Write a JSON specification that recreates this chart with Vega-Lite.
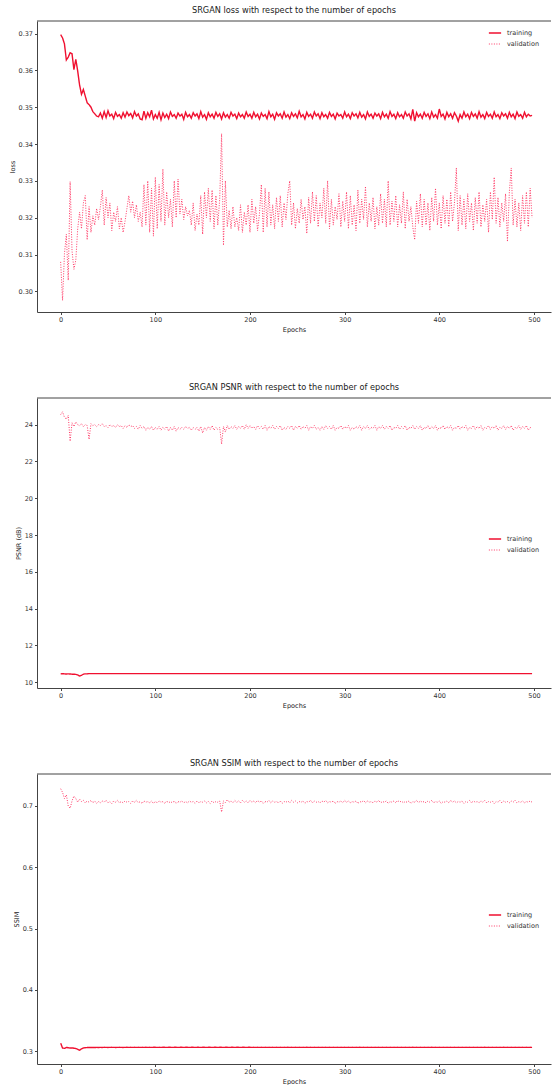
{
"$schema": "https://vega.github.io/schema/vega-lite/v6.json",
"padding": {"left": 9, "top": 6, "right": 0, "bottom": 0},
"background": "white",
"spacing": 50,
"config": {
  "font": "DejaVu Sans",
  "view": {"stroke": null},
  "axis": {"labelFontSize": 6.5, "labelColor": "#333", "titleFontSize": 6.5, "titleFontWeight": "normal", "titleColor": "#222", "domainColor": "#444", "tickColor": "#444", "tickSize": 2.5, "grid": false, "labelPadding": 2, "titlePadding": 3},
  "title": {"fontSize": 8.2, "fontWeight": "normal", "color": "#222", "offset": 5},
  "legend": {"symbolType": "stroke", "symbolSize": 150, "symbolStrokeWidth": 1.5, "labelFontSize": 6.5, "labelColor": "#333", "rowPadding": 0, "labelOffset": 5, "padding": 0}
},
"resolve": {"scale": {"color": "independent", "strokeDash": "independent", "strokeWidth": "independent"}},
"datasets": {"d": [
{"e":0,"lt":0.3697,"lv":0.3080,"pt":10.46,"pv":24.55,"st":0.3130,"sv":0.7280},
{"e":2,"lt":0.3688,"lv":0.2975,"pt":10.47,"pv":24.70,"st":0.3050,"sv":0.7220},
{"e":4,"lt":0.3672,"lv":0.3102,"pt":10.46,"pv":24.40,"st":0.3045,"sv":0.7120},
{"e":6,"lt":0.3628,"lv":0.3155,"pt":10.45,"pv":24.30,"st":0.3060,"sv":0.7180},
{"e":8,"lt":0.3636,"lv":0.3030,"pt":10.46,"pv":24.50,"st":0.3055,"sv":0.7000},
{"e":10,"lt":0.3648,"lv":0.3298,"pt":10.45,"pv":23.10,"st":0.3050,"sv":0.6960},
{"e":12,"lt":0.3645,"lv":0.3110,"pt":10.44,"pv":24.10,"st":0.3052,"sv":0.7080},
{"e":14,"lt":0.3602,"lv":0.3060,"pt":10.44,"pv":23.90,"st":0.3048,"sv":0.7160},
{"e":16,"lt":0.3630,"lv":0.3085,"pt":10.43,"pv":24.15,"st":0.3042,"sv":0.7120},
{"e":18,"lt":0.3598,"lv":0.3170,"pt":10.40,"pv":24.00,"st":0.3030,"sv":0.7060},
{"e":20,"lt":0.3560,"lv":0.3215,"pt":10.34,"pv":23.95,"st":0.3015,"sv":0.7110},
{"e":22,"lt":0.3535,"lv":0.3170,"pt":10.38,"pv":24.05,"st":0.3038,"sv":0.7070},
{"e":24,"lt":0.3548,"lv":0.3240,"pt":10.44,"pv":23.90,"st":0.3052,"sv":0.7090},
{"e":26,"lt":0.3530,"lv":0.3260,"pt":10.46,"pv":24.00,"st":0.3056,"sv":0.7050},
{"e":28,"lt":0.3512,"lv":0.3140,"pt":10.46,"pv":23.95,"st":0.3058,"sv":0.7080},
{"e":30,"lt":0.3507,"lv":0.3230,"pt":10.47,"pv":23.20,"st":0.3060,"sv":0.7060},
{"e":32,"lt":0.3500,"lv":0.3160,"pt":10.47,"pv":24.05,"st":0.3058,"sv":0.7090},
{"e":34,"lt":0.3488,"lv":0.3205,"pt":10.47,"pv":23.95,"st":0.3060,"sv":0.7050},
{"e":36,"lt":0.3482,"lv":0.3180,"pt":10.47,"pv":24.00,"st":0.3059,"sv":0.7080},
{"e":38,"lt":0.3476,"lv":0.3225,"pt":10.47,"pv":23.90,"st":0.3061,"sv":0.7040},
{"e":40,"lt":0.3474,"lv":0.3195,"pt":10.47,"pv":24.00,"st":0.3060,"sv":0.7070},
{"e":42,"lt":0.3484,"lv":0.3230,"pt":10.47,"pv":23.95,"st":0.3061,"sv":0.7050},
{"e":44,"lt":0.3470,"lv":0.3275,"pt":10.47,"pv":24.05,"st":0.3060,"sv":0.7080},
{"e":46,"lt":0.3488,"lv":0.3180,"pt":10.47,"pv":23.90,"st":0.3062,"sv":0.7060},
{"e":48,"lt":0.3472,"lv":0.3255,"pt":10.47,"pv":23.95,"st":0.3061,"sv":0.7090},
{"e":50,"lt":0.3490,"lv":0.3200,"pt":10.47,"pv":23.85,"st":0.3060,"sv":0.7050},
{"e":52,"lt":0.3476,"lv":0.3240,"pt":10.47,"pv":24.00,"st":0.3061,"sv":0.7070},
{"e":54,"lt":0.3481,"lv":0.3165,"pt":10.47,"pv":23.90,"st":0.3062,"sv":0.7040},
{"e":56,"lt":0.3469,"lv":0.3215,"pt":10.47,"pv":23.95,"st":0.3061,"sv":0.7080},
{"e":58,"lt":0.3486,"lv":0.3190,"pt":10.47,"pv":23.85,"st":0.3060,"sv":0.7060},
{"e":60,"lt":0.3475,"lv":0.3230,"pt":10.47,"pv":24.00,"st":0.3061,"sv":0.7090},
{"e":62,"lt":0.3480,"lv":0.3170,"pt":10.47,"pv":23.90,"st":0.3062,"sv":0.7050},
{"e":64,"lt":0.3470,"lv":0.3200,"pt":10.47,"pv":23.95,"st":0.3061,"sv":0.7070},
{"e":66,"lt":0.3485,"lv":0.3160,"pt":10.47,"pv":23.80,"st":0.3060,"sv":0.7050},
{"e":68,"lt":0.3473,"lv":0.3190,"pt":10.47,"pv":23.95,"st":0.3061,"sv":0.7080},
{"e":70,"lt":0.3487,"lv":0.3225,"pt":10.47,"pv":23.85,"st":0.3062,"sv":0.7060},
{"e":72,"lt":0.3477,"lv":0.3260,"pt":10.47,"pv":24.00,"st":0.3061,"sv":0.7070},
{"e":74,"lt":0.3483,"lv":0.3215,"pt":10.47,"pv":23.90,"st":0.3062,"sv":0.7040},
{"e":76,"lt":0.3471,"lv":0.3245,"pt":10.47,"pv":23.95,"st":0.3061,"sv":0.7080},
{"e":78,"lt":0.3488,"lv":0.3200,"pt":10.47,"pv":23.80,"st":0.3062,"sv":0.7060},
{"e":80,"lt":0.3476,"lv":0.3235,"pt":10.47,"pv":23.90,"st":0.3061,"sv":0.7090},
{"e":82,"lt":0.3482,"lv":0.3190,"pt":10.47,"pv":23.75,"st":0.3062,"sv":0.7050},
{"e":84,"lt":0.3468,"lv":0.3215,"pt":10.47,"pv":23.95,"st":0.3061,"sv":0.7070},
{"e":86,"lt":0.3466,"lv":0.3175,"pt":10.47,"pv":23.80,"st":0.3062,"sv":0.7040},
{"e":88,"lt":0.3489,"lv":0.3290,"pt":10.47,"pv":23.90,"st":0.3061,"sv":0.7080},
{"e":90,"lt":0.3470,"lv":0.3180,"pt":10.47,"pv":23.70,"st":0.3062,"sv":0.7060},
{"e":92,"lt":0.3485,"lv":0.3300,"pt":10.47,"pv":23.85,"st":0.3061,"sv":0.7070},
{"e":94,"lt":0.3474,"lv":0.3160,"pt":10.47,"pv":23.75,"st":0.3062,"sv":0.7050},
{"e":96,"lt":0.3492,"lv":0.3280,"pt":10.47,"pv":23.90,"st":0.3061,"sv":0.7080},
{"e":98,"lt":0.3468,"lv":0.3150,"pt":10.47,"pv":23.70,"st":0.3062,"sv":0.7040},
{"e":100,"lt":0.3480,"lv":0.3310,"pt":10.47,"pv":23.85,"st":0.3062,"sv":0.7070},
{"e":102,"lt":0.3470,"lv":0.3170,"pt":10.47,"pv":23.75,"st":0.3061,"sv":0.7050},
{"e":104,"lt":0.3486,"lv":0.3290,"pt":10.47,"pv":23.90,"st":0.3062,"sv":0.7080},
{"e":106,"lt":0.3466,"lv":0.3190,"pt":10.47,"pv":23.70,"st":0.3061,"sv":0.7060},
{"e":108,"lt":0.3484,"lv":0.3332,"pt":10.47,"pv":23.85,"st":0.3062,"sv":0.7070},
{"e":110,"lt":0.3472,"lv":0.3180,"pt":10.47,"pv":23.75,"st":0.3062,"sv":0.7040},
{"e":112,"lt":0.3481,"lv":0.3270,"pt":10.47,"pv":23.90,"st":0.3061,"sv":0.7080},
{"e":114,"lt":0.3469,"lv":0.3200,"pt":10.47,"pv":23.65,"st":0.3062,"sv":0.7050},
{"e":116,"lt":0.3487,"lv":0.3250,"pt":10.47,"pv":23.85,"st":0.3062,"sv":0.7070},
{"e":118,"lt":0.3475,"lv":0.3175,"pt":10.47,"pv":23.70,"st":0.3061,"sv":0.7050},
{"e":120,"lt":0.3480,"lv":0.3300,"pt":10.47,"pv":23.90,"st":0.3062,"sv":0.7080},
{"e":122,"lt":0.3470,"lv":0.3200,"pt":10.47,"pv":23.65,"st":0.3062,"sv":0.7040},
{"e":124,"lt":0.3484,"lv":0.3305,"pt":10.47,"pv":23.85,"st":0.3061,"sv":0.7070},
{"e":126,"lt":0.3476,"lv":0.3210,"pt":10.47,"pv":23.75,"st":0.3062,"sv":0.7060},
{"e":128,"lt":0.3481,"lv":0.3250,"pt":10.47,"pv":23.85,"st":0.3062,"sv":0.7080},
{"e":130,"lt":0.3467,"lv":0.3195,"pt":10.47,"pv":23.75,"st":0.3061,"sv":0.7050},
{"e":132,"lt":0.3486,"lv":0.3230,"pt":10.47,"pv":23.90,"st":0.3062,"sv":0.7070},
{"e":134,"lt":0.3474,"lv":0.3205,"pt":10.47,"pv":23.80,"st":0.3062,"sv":0.7050},
{"e":136,"lt":0.3480,"lv":0.3220,"pt":10.47,"pv":23.85,"st":0.3061,"sv":0.7080},
{"e":138,"lt":0.3470,"lv":0.3180,"pt":10.47,"pv":23.70,"st":0.3062,"sv":0.7060},
{"e":140,"lt":0.3485,"lv":0.3240,"pt":10.47,"pv":23.85,"st":0.3062,"sv":0.7070},
{"e":142,"lt":0.3476,"lv":0.3165,"pt":10.47,"pv":23.75,"st":0.3061,"sv":0.7040},
{"e":144,"lt":0.3482,"lv":0.3210,"pt":10.47,"pv":23.85,"st":0.3062,"sv":0.7080},
{"e":146,"lt":0.3469,"lv":0.3180,"pt":10.47,"pv":23.65,"st":0.3062,"sv":0.7050},
{"e":148,"lt":0.3488,"lv":0.3260,"pt":10.47,"pv":23.90,"st":0.3061,"sv":0.7070},
{"e":150,"lt":0.3473,"lv":0.3155,"pt":10.47,"pv":23.55,"st":0.3062,"sv":0.7060},
{"e":152,"lt":0.3480,"lv":0.3270,"pt":10.47,"pv":23.85,"st":0.3062,"sv":0.7080},
{"e":154,"lt":0.3467,"lv":0.3200,"pt":10.47,"pv":23.70,"st":0.3061,"sv":0.7050},
{"e":156,"lt":0.3485,"lv":0.3280,"pt":10.47,"pv":23.90,"st":0.3062,"sv":0.7070},
{"e":158,"lt":0.3474,"lv":0.3190,"pt":10.47,"pv":23.75,"st":0.3062,"sv":0.7040},
{"e":160,"lt":0.3481,"lv":0.3275,"pt":10.47,"pv":23.95,"st":0.3061,"sv":0.7080},
{"e":162,"lt":0.3470,"lv":0.3170,"pt":10.47,"pv":23.70,"st":0.3062,"sv":0.7050},
{"e":164,"lt":0.3486,"lv":0.3260,"pt":10.47,"pv":23.85,"st":0.3062,"sv":0.7070},
{"e":166,"lt":0.3475,"lv":0.3180,"pt":10.47,"pv":23.75,"st":0.3061,"sv":0.7060},
{"e":168,"lt":0.3482,"lv":0.3250,"pt":10.47,"pv":23.85,"st":0.3062,"sv":0.7080},
{"e":170,"lt":0.3468,"lv":0.3428,"pt":10.47,"pv":22.95,"st":0.3062,"sv":0.6900},
{"e":172,"lt":0.3485,"lv":0.3125,"pt":10.47,"pv":23.90,"st":0.3061,"sv":0.7080},
{"e":174,"lt":0.3473,"lv":0.3300,"pt":10.47,"pv":23.60,"st":0.3062,"sv":0.7050},
{"e":176,"lt":0.3480,"lv":0.3175,"pt":10.47,"pv":23.95,"st":0.3062,"sv":0.7100},
{"e":178,"lt":0.3470,"lv":0.3220,"pt":10.47,"pv":23.75,"st":0.3061,"sv":0.7060},
{"e":180,"lt":0.3486,"lv":0.3170,"pt":10.47,"pv":23.90,"st":0.3062,"sv":0.7080},
{"e":182,"lt":0.3476,"lv":0.3230,"pt":10.47,"pv":23.80,"st":0.3062,"sv":0.7050},
{"e":184,"lt":0.3481,"lv":0.3175,"pt":10.47,"pv":23.95,"st":0.3061,"sv":0.7090},
{"e":186,"lt":0.3469,"lv":0.3200,"pt":10.47,"pv":23.75,"st":0.3062,"sv":0.7060},
{"e":188,"lt":0.3484,"lv":0.3165,"pt":10.47,"pv":23.90,"st":0.3062,"sv":0.7080},
{"e":190,"lt":0.3474,"lv":0.3235,"pt":10.47,"pv":23.80,"st":0.3061,"sv":0.7050},
{"e":192,"lt":0.3480,"lv":0.3160,"pt":10.47,"pv":23.95,"st":0.3062,"sv":0.7090},
{"e":194,"lt":0.3470,"lv":0.3215,"pt":10.47,"pv":23.75,"st":0.3062,"sv":0.7060},
{"e":196,"lt":0.3487,"lv":0.3180,"pt":10.47,"pv":24.00,"st":0.3061,"sv":0.7080},
{"e":198,"lt":0.3475,"lv":0.3235,"pt":10.47,"pv":23.80,"st":0.3062,"sv":0.7050},
{"e":200,"lt":0.3481,"lv":0.3160,"pt":10.47,"pv":23.95,"st":0.3062,"sv":0.7090},
{"e":202,"lt":0.3470,"lv":0.3250,"pt":10.47,"pv":23.80,"st":0.3061,"sv":0.7060},
{"e":204,"lt":0.3486,"lv":0.3185,"pt":10.47,"pv":23.90,"st":0.3062,"sv":0.7080},
{"e":206,"lt":0.3474,"lv":0.3230,"pt":10.47,"pv":23.75,"st":0.3061,"sv":0.7050},
{"e":208,"lt":0.3481,"lv":0.3165,"pt":10.47,"pv":23.95,"st":0.3062,"sv":0.7090},
{"e":210,"lt":0.3468,"lv":0.3210,"pt":10.47,"pv":23.80,"st":0.3061,"sv":0.7060},
{"e":212,"lt":0.3484,"lv":0.3290,"pt":10.47,"pv":23.90,"st":0.3062,"sv":0.7080},
{"e":214,"lt":0.3475,"lv":0.3160,"pt":10.47,"pv":23.75,"st":0.3061,"sv":0.7040},
{"e":216,"lt":0.3480,"lv":0.3280,"pt":10.47,"pv":23.95,"st":0.3062,"sv":0.7070},
{"e":218,"lt":0.3469,"lv":0.3175,"pt":10.47,"pv":23.70,"st":0.3061,"sv":0.7060},
{"e":220,"lt":0.3488,"lv":0.3270,"pt":10.47,"pv":23.90,"st":0.3062,"sv":0.7090},
{"e":222,"lt":0.3474,"lv":0.3180,"pt":10.47,"pv":23.80,"st":0.3061,"sv":0.7050},
{"e":224,"lt":0.3481,"lv":0.3235,"pt":10.47,"pv":23.95,"st":0.3062,"sv":0.7080},
{"e":226,"lt":0.3467,"lv":0.3170,"pt":10.47,"pv":23.75,"st":0.3061,"sv":0.7060},
{"e":228,"lt":0.3485,"lv":0.3255,"pt":10.47,"pv":23.90,"st":0.3062,"sv":0.7070},
{"e":230,"lt":0.3476,"lv":0.3190,"pt":10.47,"pv":23.80,"st":0.3061,"sv":0.7050},
{"e":232,"lt":0.3482,"lv":0.3260,"pt":10.47,"pv":23.95,"st":0.3062,"sv":0.7080},
{"e":234,"lt":0.3470,"lv":0.3175,"pt":10.47,"pv":23.70,"st":0.3061,"sv":0.7040},
{"e":236,"lt":0.3487,"lv":0.3240,"pt":10.47,"pv":23.85,"st":0.3062,"sv":0.7070},
{"e":238,"lt":0.3473,"lv":0.3195,"pt":10.47,"pv":23.75,"st":0.3061,"sv":0.7060},
{"e":240,"lt":0.3480,"lv":0.3265,"pt":10.47,"pv":23.90,"st":0.3062,"sv":0.7080},
{"e":242,"lt":0.3469,"lv":0.3300,"pt":10.47,"pv":23.80,"st":0.3061,"sv":0.7050},
{"e":244,"lt":0.3485,"lv":0.3180,"pt":10.47,"pv":23.95,"st":0.3062,"sv":0.7090},
{"e":246,"lt":0.3475,"lv":0.3240,"pt":10.47,"pv":23.70,"st":0.3061,"sv":0.7060},
{"e":248,"lt":0.3482,"lv":0.3170,"pt":10.47,"pv":23.90,"st":0.3062,"sv":0.7080},
{"e":250,"lt":0.3471,"lv":0.3225,"pt":10.47,"pv":23.80,"st":0.3061,"sv":0.7050},
{"e":252,"lt":0.3489,"lv":0.3185,"pt":10.47,"pv":23.95,"st":0.3062,"sv":0.7070},
{"e":254,"lt":0.3474,"lv":0.3250,"pt":10.47,"pv":23.75,"st":0.3061,"sv":0.7060},
{"e":256,"lt":0.3480,"lv":0.3195,"pt":10.47,"pv":23.90,"st":0.3062,"sv":0.7080},
{"e":258,"lt":0.3468,"lv":0.3230,"pt":10.47,"pv":23.80,"st":0.3061,"sv":0.7040},
{"e":260,"lt":0.3486,"lv":0.3157,"pt":10.47,"pv":23.95,"st":0.3062,"sv":0.7070},
{"e":262,"lt":0.3475,"lv":0.3255,"pt":10.47,"pv":23.70,"st":0.3061,"sv":0.7060},
{"e":264,"lt":0.3481,"lv":0.3185,"pt":10.47,"pv":23.90,"st":0.3062,"sv":0.7090},
{"e":266,"lt":0.3470,"lv":0.3270,"pt":10.47,"pv":23.80,"st":0.3061,"sv":0.7050},
{"e":268,"lt":0.3487,"lv":0.3190,"pt":10.47,"pv":23.95,"st":0.3062,"sv":0.7080},
{"e":270,"lt":0.3476,"lv":0.3260,"pt":10.47,"pv":23.75,"st":0.3061,"sv":0.7060},
{"e":272,"lt":0.3482,"lv":0.3175,"pt":10.47,"pv":23.85,"st":0.3062,"sv":0.7070},
{"e":274,"lt":0.3469,"lv":0.3240,"pt":10.47,"pv":23.70,"st":0.3061,"sv":0.7050},
{"e":276,"lt":0.3485,"lv":0.3200,"pt":10.47,"pv":23.90,"st":0.3062,"sv":0.7080},
{"e":278,"lt":0.3474,"lv":0.3280,"pt":10.47,"pv":23.75,"st":0.3061,"sv":0.7060},
{"e":280,"lt":0.3480,"lv":0.3185,"pt":10.47,"pv":23.95,"st":0.3062,"sv":0.7090},
{"e":282,"lt":0.3470,"lv":0.3300,"pt":10.47,"pv":23.80,"st":0.3061,"sv":0.7050},
{"e":284,"lt":0.3486,"lv":0.3170,"pt":10.47,"pv":23.90,"st":0.3062,"sv":0.7070},
{"e":286,"lt":0.3475,"lv":0.3250,"pt":10.47,"pv":23.75,"st":0.3061,"sv":0.7060},
{"e":288,"lt":0.3481,"lv":0.3180,"pt":10.47,"pv":23.95,"st":0.3062,"sv":0.7080},
{"e":290,"lt":0.3468,"lv":0.3230,"pt":10.47,"pv":23.70,"st":0.3061,"sv":0.7040},
{"e":292,"lt":0.3484,"lv":0.3195,"pt":10.47,"pv":23.85,"st":0.3062,"sv":0.7070},
{"e":294,"lt":0.3476,"lv":0.3265,"pt":10.47,"pv":23.80,"st":0.3061,"sv":0.7060},
{"e":296,"lt":0.3480,"lv":0.3175,"pt":10.47,"pv":23.95,"st":0.3062,"sv":0.7080},
{"e":298,"lt":0.3470,"lv":0.3245,"pt":10.47,"pv":23.75,"st":0.3061,"sv":0.7050},
{"e":300,"lt":0.3487,"lv":0.3190,"pt":10.47,"pv":23.90,"st":0.3062,"sv":0.7090},
{"e":302,"lt":0.3474,"lv":0.3270,"pt":10.47,"pv":23.80,"st":0.3061,"sv":0.7060},
{"e":304,"lt":0.3481,"lv":0.3170,"pt":10.47,"pv":23.95,"st":0.3062,"sv":0.7080},
{"e":306,"lt":0.3469,"lv":0.3260,"pt":10.47,"pv":23.70,"st":0.3061,"sv":0.7050},
{"e":308,"lt":0.3485,"lv":0.3180,"pt":10.47,"pv":23.85,"st":0.3062,"sv":0.7070},
{"e":310,"lt":0.3476,"lv":0.3235,"pt":10.47,"pv":23.75,"st":0.3061,"sv":0.7060},
{"e":312,"lt":0.3482,"lv":0.3165,"pt":10.47,"pv":23.90,"st":0.3062,"sv":0.7080},
{"e":314,"lt":0.3471,"lv":0.3275,"pt":10.47,"pv":23.80,"st":0.3061,"sv":0.7040},
{"e":316,"lt":0.3486,"lv":0.3185,"pt":10.47,"pv":23.95,"st":0.3062,"sv":0.7070},
{"e":318,"lt":0.3473,"lv":0.3250,"pt":10.47,"pv":23.70,"st":0.3061,"sv":0.7060},
{"e":320,"lt":0.3480,"lv":0.3195,"pt":10.47,"pv":23.90,"st":0.3062,"sv":0.7090},
{"e":322,"lt":0.3468,"lv":0.3285,"pt":10.47,"pv":23.80,"st":0.3061,"sv":0.7050},
{"e":324,"lt":0.3487,"lv":0.3175,"pt":10.47,"pv":23.95,"st":0.3062,"sv":0.7080},
{"e":326,"lt":0.3475,"lv":0.3240,"pt":10.47,"pv":23.75,"st":0.3061,"sv":0.7060},
{"e":328,"lt":0.3481,"lv":0.3190,"pt":10.47,"pv":23.85,"st":0.3062,"sv":0.7070},
{"e":330,"lt":0.3470,"lv":0.3255,"pt":10.47,"pv":23.80,"st":0.3061,"sv":0.7050},
{"e":332,"lt":0.3484,"lv":0.3170,"pt":10.47,"pv":23.95,"st":0.3062,"sv":0.7080},
{"e":334,"lt":0.3476,"lv":0.3230,"pt":10.47,"pv":23.70,"st":0.3061,"sv":0.7060},
{"e":336,"lt":0.3482,"lv":0.3180,"pt":10.47,"pv":23.90,"st":0.3062,"sv":0.7090},
{"e":338,"lt":0.3469,"lv":0.3265,"pt":10.47,"pv":23.80,"st":0.3061,"sv":0.7050},
{"e":340,"lt":0.3486,"lv":0.3185,"pt":10.47,"pv":23.95,"st":0.3062,"sv":0.7070},
{"e":342,"lt":0.3474,"lv":0.3250,"pt":10.47,"pv":23.75,"st":0.3061,"sv":0.7060},
{"e":344,"lt":0.3481,"lv":0.3175,"pt":10.47,"pv":23.90,"st":0.3062,"sv":0.7080},
{"e":346,"lt":0.3470,"lv":0.3300,"pt":10.47,"pv":23.80,"st":0.3061,"sv":0.7040},
{"e":348,"lt":0.3488,"lv":0.3180,"pt":10.47,"pv":23.95,"st":0.3062,"sv":0.7070},
{"e":350,"lt":0.3475,"lv":0.3245,"pt":10.47,"pv":23.70,"st":0.3061,"sv":0.7060},
{"e":352,"lt":0.3481,"lv":0.3190,"pt":10.47,"pv":23.85,"st":0.3062,"sv":0.7080},
{"e":354,"lt":0.3469,"lv":0.3260,"pt":10.47,"pv":23.80,"st":0.3061,"sv":0.7050},
{"e":356,"lt":0.3485,"lv":0.3175,"pt":10.47,"pv":23.95,"st":0.3062,"sv":0.7090},
{"e":358,"lt":0.3474,"lv":0.3235,"pt":10.47,"pv":23.75,"st":0.3061,"sv":0.7060},
{"e":360,"lt":0.3480,"lv":0.3185,"pt":10.47,"pv":23.90,"st":0.3062,"sv":0.7080},
{"e":362,"lt":0.3470,"lv":0.3270,"pt":10.47,"pv":23.80,"st":0.3061,"sv":0.7050},
{"e":364,"lt":0.3487,"lv":0.3170,"pt":10.47,"pv":23.95,"st":0.3062,"sv":0.7070},
{"e":366,"lt":0.3476,"lv":0.3250,"pt":10.47,"pv":23.70,"st":0.3061,"sv":0.7060},
{"e":368,"lt":0.3482,"lv":0.3190,"pt":10.47,"pv":23.85,"st":0.3062,"sv":0.7080},
{"e":370,"lt":0.3468,"lv":0.3230,"pt":10.47,"pv":23.80,"st":0.3061,"sv":0.7040},
{"e":372,"lt":0.3494,"lv":0.3175,"pt":10.47,"pv":23.95,"st":0.3062,"sv":0.7070},
{"e":374,"lt":0.3462,"lv":0.3140,"pt":10.47,"pv":23.75,"st":0.3061,"sv":0.7060},
{"e":376,"lt":0.3485,"lv":0.3245,"pt":10.47,"pv":23.90,"st":0.3062,"sv":0.7090},
{"e":378,"lt":0.3474,"lv":0.3185,"pt":10.47,"pv":23.80,"st":0.3061,"sv":0.7050},
{"e":380,"lt":0.3481,"lv":0.3265,"pt":10.47,"pv":23.95,"st":0.3062,"sv":0.7080},
{"e":382,"lt":0.3470,"lv":0.3175,"pt":10.47,"pv":23.70,"st":0.3061,"sv":0.7060},
{"e":384,"lt":0.3486,"lv":0.3250,"pt":10.47,"pv":23.85,"st":0.3062,"sv":0.7070},
{"e":386,"lt":0.3475,"lv":0.3180,"pt":10.47,"pv":23.80,"st":0.3061,"sv":0.7050},
{"e":388,"lt":0.3482,"lv":0.3240,"pt":10.47,"pv":23.95,"st":0.3062,"sv":0.7080},
{"e":390,"lt":0.3469,"lv":0.3165,"pt":10.47,"pv":23.75,"st":0.3061,"sv":0.7060},
{"e":392,"lt":0.3487,"lv":0.3255,"pt":10.47,"pv":23.90,"st":0.3062,"sv":0.7090},
{"e":394,"lt":0.3473,"lv":0.3190,"pt":10.47,"pv":23.80,"st":0.3061,"sv":0.7050},
{"e":396,"lt":0.3480,"lv":0.3280,"pt":10.47,"pv":23.95,"st":0.3062,"sv":0.7070},
{"e":398,"lt":0.3470,"lv":0.3180,"pt":10.47,"pv":23.70,"st":0.3061,"sv":0.7060},
{"e":400,"lt":0.3495,"lv":0.3240,"pt":10.47,"pv":23.85,"st":0.3062,"sv":0.7080},
{"e":402,"lt":0.3475,"lv":0.3170,"pt":10.47,"pv":23.80,"st":0.3061,"sv":0.7040},
{"e":404,"lt":0.3481,"lv":0.3260,"pt":10.47,"pv":23.95,"st":0.3062,"sv":0.7070},
{"e":406,"lt":0.3468,"lv":0.3185,"pt":10.47,"pv":23.75,"st":0.3061,"sv":0.7060},
{"e":408,"lt":0.3486,"lv":0.3250,"pt":10.47,"pv":23.90,"st":0.3062,"sv":0.7080},
{"e":410,"lt":0.3474,"lv":0.3175,"pt":10.47,"pv":23.80,"st":0.3061,"sv":0.7050},
{"e":412,"lt":0.3482,"lv":0.3270,"pt":10.47,"pv":23.95,"st":0.3062,"sv":0.7090},
{"e":414,"lt":0.3470,"lv":0.3190,"pt":10.47,"pv":23.70,"st":0.3061,"sv":0.7060},
{"e":416,"lt":0.3485,"lv":0.3240,"pt":10.47,"pv":23.85,"st":0.3062,"sv":0.7080},
{"e":418,"lt":0.3476,"lv":0.3335,"pt":10.47,"pv":23.80,"st":0.3061,"sv":0.7050},
{"e":420,"lt":0.3462,"lv":0.3165,"pt":10.47,"pv":23.95,"st":0.3062,"sv":0.7070},
{"e":422,"lt":0.3480,"lv":0.3260,"pt":10.47,"pv":23.75,"st":0.3061,"sv":0.7060},
{"e":424,"lt":0.3470,"lv":0.3180,"pt":10.47,"pv":23.90,"st":0.3062,"sv":0.7080},
{"e":426,"lt":0.3487,"lv":0.3250,"pt":10.47,"pv":23.80,"st":0.3061,"sv":0.7040},
{"e":428,"lt":0.3474,"lv":0.3170,"pt":10.47,"pv":23.95,"st":0.3062,"sv":0.7070},
{"e":430,"lt":0.3481,"lv":0.3265,"pt":10.47,"pv":23.70,"st":0.3061,"sv":0.7060},
{"e":432,"lt":0.3469,"lv":0.3190,"pt":10.47,"pv":23.85,"st":0.3062,"sv":0.7090},
{"e":434,"lt":0.3486,"lv":0.3240,"pt":10.47,"pv":23.80,"st":0.3061,"sv":0.7050},
{"e":436,"lt":0.3475,"lv":0.3165,"pt":10.47,"pv":23.95,"st":0.3062,"sv":0.7080},
{"e":438,"lt":0.3482,"lv":0.3255,"pt":10.47,"pv":23.75,"st":0.3061,"sv":0.7060},
{"e":440,"lt":0.3470,"lv":0.3185,"pt":10.47,"pv":23.90,"st":0.3062,"sv":0.7070},
{"e":442,"lt":0.3488,"lv":0.3270,"pt":10.47,"pv":23.80,"st":0.3061,"sv":0.7050},
{"e":444,"lt":0.3473,"lv":0.3175,"pt":10.47,"pv":23.95,"st":0.3062,"sv":0.7080},
{"e":446,"lt":0.3480,"lv":0.3235,"pt":10.47,"pv":23.70,"st":0.3061,"sv":0.7060},
{"e":448,"lt":0.3469,"lv":0.3190,"pt":10.47,"pv":23.85,"st":0.3062,"sv":0.7090},
{"e":450,"lt":0.3486,"lv":0.3250,"pt":10.47,"pv":23.80,"st":0.3061,"sv":0.7050},
{"e":452,"lt":0.3475,"lv":0.3160,"pt":10.47,"pv":23.95,"st":0.3062,"sv":0.7070},
{"e":454,"lt":0.3481,"lv":0.3270,"pt":10.47,"pv":23.75,"st":0.3061,"sv":0.7060},
{"e":456,"lt":0.3470,"lv":0.3195,"pt":10.47,"pv":23.90,"st":0.3062,"sv":0.7080},
{"e":458,"lt":0.3487,"lv":0.3310,"pt":10.47,"pv":23.80,"st":0.3061,"sv":0.7040},
{"e":460,"lt":0.3474,"lv":0.3185,"pt":10.47,"pv":23.95,"st":0.3062,"sv":0.7070},
{"e":462,"lt":0.3480,"lv":0.3255,"pt":10.47,"pv":23.70,"st":0.3061,"sv":0.7060},
{"e":464,"lt":0.3469,"lv":0.3175,"pt":10.47,"pv":23.85,"st":0.3062,"sv":0.7090},
{"e":466,"lt":0.3485,"lv":0.3240,"pt":10.47,"pv":23.80,"st":0.3061,"sv":0.7050},
{"e":468,"lt":0.3476,"lv":0.3190,"pt":10.47,"pv":23.95,"st":0.3062,"sv":0.7080},
{"e":470,"lt":0.3482,"lv":0.3265,"pt":10.47,"pv":23.75,"st":0.3061,"sv":0.7060},
{"e":472,"lt":0.3470,"lv":0.3135,"pt":10.47,"pv":23.90,"st":0.3062,"sv":0.7070},
{"e":474,"lt":0.3486,"lv":0.3270,"pt":10.47,"pv":23.80,"st":0.3061,"sv":0.7050},
{"e":476,"lt":0.3474,"lv":0.3335,"pt":10.47,"pv":23.95,"st":0.3062,"sv":0.7080},
{"e":478,"lt":0.3481,"lv":0.3180,"pt":10.47,"pv":23.70,"st":0.3061,"sv":0.7060},
{"e":480,"lt":0.3469,"lv":0.3250,"pt":10.47,"pv":23.85,"st":0.3062,"sv":0.7090},
{"e":482,"lt":0.3487,"lv":0.3175,"pt":10.47,"pv":23.80,"st":0.3061,"sv":0.7050},
{"e":484,"lt":0.3475,"lv":0.3240,"pt":10.47,"pv":23.95,"st":0.3062,"sv":0.7070},
{"e":486,"lt":0.3480,"lv":0.3165,"pt":10.47,"pv":23.75,"st":0.3061,"sv":0.7060},
{"e":488,"lt":0.3470,"lv":0.3260,"pt":10.47,"pv":23.90,"st":0.3062,"sv":0.7080},
{"e":490,"lt":0.3486,"lv":0.3185,"pt":10.47,"pv":23.80,"st":0.3061,"sv":0.7050},
{"e":492,"lt":0.3474,"lv":0.3270,"pt":10.47,"pv":23.95,"st":0.3062,"sv":0.7070},
{"e":494,"lt":0.3481,"lv":0.3175,"pt":10.47,"pv":23.70,"st":0.3061,"sv":0.7060},
{"e":496,"lt":0.3476,"lv":0.3280,"pt":10.47,"pv":23.85,"st":0.3062,"sv":0.7080},
{"e":498,"lt":0.3478,"lv":0.3200,"pt":10.47,"pv":23.80,"st":0.3061,"sv":0.7060}
]},
"vconcat": [
{
  "title": "SRGAN loss with respect to the number of epochs",
  "width": 514, "height": 291,
  "layer": [
    {
      "data": {"name": "d"},
      "transform": [{"fold": ["lt", "lv"], "as": ["s", "y"]}],
      "mark": {"type": "line"},
      "encoding": {
        "x": {"field": "e", "type": "quantitative", "scale": {"domain": [-25, 518], "nice": false, "zero": false}, "axis": {"values": [0, 100, 200, 300, 400, 500], "title": "Epochs"}},
        "y": {"field": "y", "type": "quantitative", "scale": {"domain": [0.2944, 0.3734], "nice": false, "zero": false}, "axis": {"values": [0.30, 0.31, 0.32, 0.33, 0.34, 0.35, 0.36, 0.37], "format": ".2f", "title": "loss"}},
        "color": {"field": "s", "type": "nominal", "scale": {"domain": ["lt", "lv"], "range": ["#f01030", "#ff3a66"]}, "legend": {"title": null, "orient": "none", "legendX": 451, "legendY": 5, "labelExpr": "datum.value == 'lt' ? 'training' : 'validation'"}},
        "strokeDash": {"field": "s", "type": "nominal", "scale": {"domain": ["lt", "lv"], "range": [[1, 0], [1, 1.5]]}, "legend": {"title": null, "orient": "none", "legendX": 451, "legendY": 5, "labelExpr": "datum.value == 'lt' ? 'training' : 'validation'"}},
        "strokeWidth": {"field": "s", "type": "nominal", "scale": {"domain": ["lt", "lv"], "range": [1.4, 1.0]}, "legend": null}
      }
    },
    {
      "data": {"values": [{}]},
      "mark": {"type": "rule", "color": "#444", "strokeWidth": 1},
      "encoding": {"y": {"datum": 0.3734}}
    }
  ]
},
{
  "title": "SRGAN PSNR with respect to the number of epochs",
  "width": 514, "height": 290,
  "layer": [
    {
      "data": {"name": "d"},
      "transform": [{"fold": ["pt", "pv"], "as": ["s", "y"]}],
      "mark": {"type": "line"},
      "encoding": {
        "x": {"field": "e", "type": "quantitative", "scale": {"domain": [-25, 518], "nice": false, "zero": false}, "axis": {"values": [0, 100, 200, 300, 400, 500], "title": "Epochs"}},
        "y": {"field": "y", "type": "quantitative", "scale": {"domain": [9.69, 25.45], "nice": false, "zero": false}, "axis": {"values": [10, 12, 14, 16, 18, 20, 22, 24], "title": "PSNR (dB)"}},
        "color": {"field": "s", "type": "nominal", "scale": {"domain": ["pt", "pv"], "range": ["#f01030", "#ff3a66"]}, "legend": {"title": null, "orient": "none", "legendX": 451, "legendY": 134, "labelExpr": "datum.value == 'pt' ? 'training' : 'validation'"}},
        "strokeDash": {"field": "s", "type": "nominal", "scale": {"domain": ["pt", "pv"], "range": [[1, 0], [1, 1.5]]}, "legend": {"title": null, "orient": "none", "legendX": 451, "legendY": 134, "labelExpr": "datum.value == 'pt' ? 'training' : 'validation'"}},
        "strokeWidth": {"field": "s", "type": "nominal", "scale": {"domain": ["pt", "pv"], "range": [1.4, 1.0]}, "legend": null}
      }
    },
    {
      "data": {"values": [{}]},
      "mark": {"type": "rule", "color": "#444", "strokeWidth": 1},
      "encoding": {"y": {"datum": 25.45}}
    }
  ]
},
{
  "title": "SRGAN SSIM with respect to the number of epochs",
  "width": 514, "height": 290,
  "layer": [
    {
      "data": {"name": "d"},
      "transform": [{"fold": ["st", "sv"], "as": ["s", "y"]}],
      "mark": {"type": "line"},
      "encoding": {
        "x": {"field": "e", "type": "quantitative", "scale": {"domain": [-25, 518], "nice": false, "zero": false}, "axis": {"values": [0, 100, 200, 300, 400, 500], "title": "Epochs"}},
        "y": {"field": "y", "type": "quantitative", "scale": {"domain": [0.279, 0.752], "nice": false, "zero": false}, "axis": {"values": [0.3, 0.4, 0.5, 0.6, 0.7], "format": ".1f", "title": "SSIM"}},
        "color": {"field": "s", "type": "nominal", "scale": {"domain": ["st", "sv"], "range": ["#f01030", "#ff3a66"]}, "legend": {"title": null, "orient": "none", "legendX": 451, "legendY": 134, "labelExpr": "datum.value == 'st' ? 'training' : 'validation'"}},
        "strokeDash": {"field": "s", "type": "nominal", "scale": {"domain": ["st", "sv"], "range": [[1, 0], [1, 1.5]]}, "legend": {"title": null, "orient": "none", "legendX": 451, "legendY": 134, "labelExpr": "datum.value == 'st' ? 'training' : 'validation'"}},
        "strokeWidth": {"field": "s", "type": "nominal", "scale": {"domain": ["st", "sv"], "range": [1.4, 1.0]}, "legend": null}
      }
    },
    {
      "data": {"values": [{}]},
      "mark": {"type": "rule", "color": "#444", "strokeWidth": 1},
      "encoding": {"y": {"datum": 0.752}}
    }
  ]
}
]
}
